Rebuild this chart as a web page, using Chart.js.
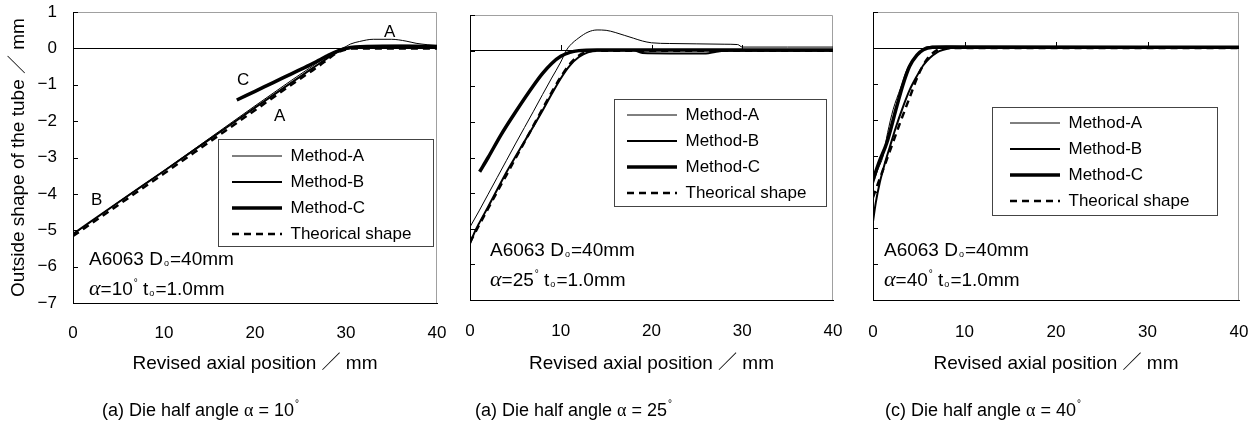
<!DOCTYPE html>
<html><head><meta charset="utf-8">
<script src="https://cdn.jsdelivr.net/npm/chart.js@4.4.1/dist/chart.umd.min.js"></script>
<style>
html,body{margin:0;padding:0;background:#fff;}
#wrap{position:relative;width:1256px;height:426px;overflow:hidden;font-family:"Liberation Sans",Arial,sans-serif;color:#000;}
canvas{position:absolute;top:0;}
.note{position:absolute;font-size:19px;line-height:25px;white-space:nowrap;}
.note sub{font-size:9px;vertical-align:baseline;position:relative;top:1px;margin:0 1px;}
.cap{position:absolute;font-size:18px;line-height:18px;white-space:nowrap;}
.al{font-family:"Liberation Serif","DejaVu Serif",serif;}
.note .al{font-style:italic;font-size:22px;}
sup.dg{font-size:10px;vertical-align:baseline;position:relative;top:-9px;margin-left:1px;}
</style></head><body>
<div id="wrap">
<canvas id="c1" width="450" height="426" style="left:0px"></canvas>
<canvas id="c2" width="400" height="426" style="left:450px"></canvas>
<canvas id="c3" width="406" height="426" style="left:850px"></canvas>
</div>
<script>
// ---------- data ----------
const xTicks = [0, 10, 20, 30, 40];
const yTicks = [1, 0, -1, -2, -3, -4, -5, -6, -7];
const seriesNames = ['Method-A', 'Method-B', 'Method-C', 'Theorical shape'];
const dieAngles = [10, 25, 40];
const captionLetters = ['(a)', '(a)', '(c)'];
const material = 'A6063';
const tubeDiameter = 40;
const wallThickness = 1.0;

// alpha = 10 deg
const a10_methodA = [[0,-5.12],[5,-4.22],[10,-3.36],[15,-2.47],[20,-1.58],[24,-0.88],[26,-0.54],[27,-0.37],[28,-0.2],[29,-0.06],[30,0.05],[30.5,0.12],[31.5,0.19],[33,0.25],[35,0.25],[36.6,0.2],[37.7,0.14],[39,0.1],[40,0.08]];
const a10_methodB = [[0,-5.1],[5,-4.23],[10,-3.37],[15,-2.5],[20,-1.63],[24,-0.94],[26,-0.6],[27,-0.43],[28,-0.26],[29,-0.11],[30,-0.02],[31,0.03],[33,0.06],[36,0.07],[40,0.06]];
const a10_methodC = [[18,-1.42],[20,-1.18],[22,-0.94],[24,-0.7],[26,-0.46],[27,-0.33],[28,-0.2],[29,-0.08],[30,0],[31,0.04],[34,0.06],[37,0.06],[40,0.05]];
const a10_theory  = [[0,-5.16],[5,-4.3],[10,-3.44],[15,-2.57],[20,-1.7],[24,-1.0],[26,-0.66],[27,-0.49],[28,-0.3],[29,-0.12],[30,-0.03],[31,0],[35,0],[40,0]];
const a10_curveTags = [['A',22.7,-1.88],['C',18.7,-0.87],['B',2.6,-4.17],['A',34.8,0.45]];

// alpha = 25 deg
const a25_methodA = [[0,-4.95],[1,-4.5],[2,-4.03],[3,-3.56],[4,-3.09],[5,-2.62],[6,-2.16],[7,-1.7],[8,-1.23],[9,-0.77],[10,-0.32],[10.6,0],[11,0.14],[12,0.36],[13,0.52],[14,0.58],[15,0.57],[16,0.51],[17,0.43],[18,0.35],[19,0.27],[20,0.22],[22,0.2],[25,0.19],[28,0.18],[29.5,0.17],[30,0.1],[35,0.1],[40,0.1]];
const a25_methodB = [[0,-5.42],[0.5,-5.1],[1,-4.85],[2,-4.38],[3,-3.9],[4,-3.42],[5,-2.98],[6,-2.55],[7,-2.12],[8,-1.68],[9,-1.22],[10,-0.78],[11,-0.42],[12,-0.18],[13,-0.05],[14,0],[18,0.01],[19,-0.07],[22,-0.08],[26,-0.08],[27,-0.04],[28,0],[40,0]];
const a25_methodC = [[1.06,-3.4],[2,-3.0],[3.4,-2.37],[5,-1.73],[7,-0.98],[8,-0.64],[9,-0.36],[10,-0.16],[11,-0.05],[12,0],[14,0.02],[40,0.02]];
const a25_theory  = [[0,-5.38],[1,-4.9],[2,-4.43],[3,-3.96],[4,-3.5],[5,-3.03],[6,-2.57],[7,-2.1],[8,-1.63],[9,-1.17],[10,-0.74],[11,-0.38],[12,-0.14],[13,-0.03],[14,0],[40,0]];

// alpha = 40 deg
const a40_methodA = [[0,-3.8],[0.5,-3.4],[1.1,-3.0],[1.6,-2.35],[2.2,-1.71],[3,-1.12],[3.7,-0.6],[4.4,-0.3],[5.1,-0.1],[5.8,0.03],[7,0.05],[10,0.04],[12,0],[40,0]];
const a40_methodB = [[0,-4.82],[0.3,-4.3],[0.73,-3.75],[1.3,-3.2],[1.86,-2.73],[2.5,-2.2],[3.3,-1.62],[4,-1.17],[4.77,-0.79],[5.5,-0.48],[6.2,-0.28],[7,-0.12],[7.7,-0.05],[8.5,0],[10,0.02],[11,0],[40,0]];
const a40_methodC = [[0,-3.66],[0.7,-3.15],[1.5,-2.64],[2.6,-1.62],[3.3,-1.0],[4,-0.51],[4.8,-0.2],[5.5,-0.05],[6.5,0.02],[8,0.03],[40,0.02]];
const a40_theory  = [[0,-4.15],[0.5,-3.8],[1,-3.45],[2,-2.75],[3,-2.05],[4,-1.38],[5,-0.72],[6,-0.28],[7,-0.06],[8,0],[40,0]];

// ---------- styling ----------
const FONT = '"Liberation Sans", Arial, "Noto Sans CJK JP", sans-serif';
const lineWidths = [1, 2, 3.5, 2.5];
const lineDashes = [[], [], [], [7, 5]];

const deco = {
  id: 'panelDeco',
  afterLayout(chart, args, o) {
    const lg = chart.legend;
    if (!lg || !o.legendAt) return;
    const pad = chart.options.plugins.legend.labels.padding;
    const fs = chart.options.plugins.legend.labels.font.size;
    lg.left = o.legendAt[0] - pad;
    lg.top = o.legendAt[1] - fs / 2 - pad;
    lg.right = lg.left + 400;
    lg.bottom = lg.top + 300;
  },
  beforeDatasetsDraw(chart, args, o) {
    const {ctx, chartArea: a, scales: {x, y}} = chart;
    ctx.save();
    ctx.lineWidth = 1;
    ctx.strokeStyle = '#a0a0a0';
    ctx.beginPath();
    ctx.moveTo(a.left, a.top + 0.5);
    ctx.lineTo(a.right - 0.5, a.top + 0.5);
    ctx.lineTo(a.right - 0.5, a.bottom);
    ctx.stroke();
    ctx.strokeStyle = '#000';
    ctx.beginPath();
    yTicks.forEach(v => {
      const py = Math.round(y.getPixelForValue(v)) + 0.5;
      ctx.moveTo(a.left, py); ctx.lineTo(a.left + 5, py);
    });
    if (o.zeroTicks) {
      const y0 = Math.round(y.getPixelForValue(0));
      xTicks.slice(1, -1).forEach(v => {
        const px = Math.round(x.getPixelForValue(v)) + 0.5;
        ctx.moveTo(px, y0); ctx.lineTo(px, y0 - 6);
      });
    }
    ctx.stroke();
    ctx.restore();
  },
  afterDraw(chart, args, o) {
    const {ctx, scales: {x, y}} = chart;
    ctx.save();
    if (o.box) {
      const [l, t, r, b] = o.box;
      ctx.strokeStyle = '#444'; ctx.lineWidth = 1;
      ctx.strokeRect(l + 0.5, t + 0.5, r - l, b - t);
    }
    if (o.tags) {
      ctx.fillStyle = '#000';
      ctx.font = '17px ' + FONT;
      ctx.textAlign = 'center'; ctx.textBaseline = 'middle';
      o.tags.forEach(([txt, vx, vy]) => ctx.fillText(txt, x.getPixelForValue(vx), y.getPixelForValue(vy)));
    }
    ctx.restore();
  }
};

function makeChart(id, cfg) {
  return new Chart(document.getElementById(id), {
    type: 'line',
    data: {
      datasets: cfg.series.map((pts, i) => ({
        label: seriesNames[i],
        data: pts.map(([px, py]) => ({x: px, y: py})),
        borderColor: '#000', backgroundColor: '#000',
        borderWidth: lineWidths[i], borderDash: lineDashes[i],
        pointRadius: 0, fill: false, cubicInterpolationMode: 'monotone'
      }))
    },
    options: {
      responsive: false, animation: false, events: [],
      layout: {padding: cfg.pad},
      scales: {
        x: {
          type: 'linear', min: 0, max: 40,
          afterBuildTicks: s => { s.ticks = xTicks.map(v => ({value: v})); },
          afterFit: s => { s.height = cfg.xh; s.paddingLeft = 0; s.paddingRight = 0; },
          ticks: {color: '#000', font: {size: 17, family: FONT}, padding: cfg.xpad, maxRotation: 0, autoSkip: false, callback: v => String(v)},
          grid: {display: true, drawOnChartArea: false, drawTicks: false},
          border: {color: '#000', width: 1},
          title: {display: true, text: 'Revised axial position ／ mm', color: '#000', font: {size: 19, family: FONT}, padding: {top: 0, bottom: 0}}
        },
        y: {
          type: 'linear', min: -7, max: 1,
          afterBuildTicks: s => { s.ticks = yTicks.map(v => ({value: v})); },
          afterFit: s => { s.width = cfg.yw; s.paddingTop = 0; s.paddingBottom = 0; },
          ticks: {display: cfg.yLabels, color: '#000', font: {size: 17, family: FONT}, padding: 16,
                  callback: v => v < 0 ? '\u2212' + Math.abs(v) : String(v)},
          grid: {color: c => (c.tick && c.tick.value === 0) ? '#000' : 'rgba(0,0,0,0)', drawTicks: false, lineWidth: 1},
          border: {color: '#000', width: 1},
          title: {display: cfg.yLabels, text: 'Outside shape of the tube ／ mm', color: '#000', font: {size: 19, family: FONT}, padding: {top: 7, bottom: 0}}
        }
      },
      plugins: {
        legend: {position: 'chartArea', align: 'start',
          labels: {usePointStyle: true, pointStyle: 'line', pointStyleWidth: 50, padding: 9, color: '#000', font: {size: 17, family: FONT},
            generateLabels: ch => Chart.defaults.plugins.legend.labels.generateLabels(ch).map((it, i) =>
              Object.assign(it, {lineWidth: lineWidths[i], lineDash: lineDashes[i], strokeStyle: '#000', fillStyle: '#000', pointStyle: 'line'}))}},
        tooltip: {enabled: false},
        panelDeco: {legendAt: cfg.legendAt, box: cfg.box, zeroTicks: cfg.zeroTicks, tags: cfg.tags}
      }
    },
    plugins: [deco]
  });
}

makeChart('c1', {
  series: [a10_methodA, a10_methodB, a10_methodC, a10_theory],
  pad: {left: 0, right: 13, top: 12, bottom: 51}, xh: 72, xpad: 20, yw: 73, yLabels: true,
  legendAt: [232, 156], box: [218, 139, 433, 246], zeroTicks: false, tags: a10_curveTags
});
makeChart('c2', {
  series: [a25_methodA, a25_methodB, a25_methodC, a25_theory],
  pad: {left: 20, right: 17, top: 15, bottom: 51}, xh: 75, xpad: 21, yw: 0, yLabels: false,
  legendAt: [177, 115], box: [164, 99, 376, 206], zeroTicks: true, tags: null
});
makeChart('c3', {
  series: [a40_methodA, a40_methodB, a40_methodC, a40_theory],
  pad: {left: 23, right: 17, top: 12, bottom: 51}, xh: 75, xpad: 22, yw: 0, yLabels: false,
  legendAt: [160, 123], box: [142, 107, 367, 215], zeroTicks: true, tags: null
});

// ---------- text blocks ----------
const wrap = document.getElementById('wrap');
const notePos = [[89, 246], [490, 237], [884, 237]];
const capPos = [[102, 401], [475, 401], [885, 401]];
dieAngles.forEach((ang, i) => {
  const n = document.createElement('div');
  n.className = 'note';
  n.style.left = notePos[i][0] + 'px'; n.style.top = notePos[i][1] + 'px';
  n.innerHTML = `${material} D<sub>o</sub>=${tubeDiameter}mm<br><span class="al">α</span>=${ang}<sup class="dg">°</sup> t<sub>o</sub>=${wallThickness.toFixed(1)}mm`;
  wrap.appendChild(n);
  const c = document.createElement('div');
  c.className = 'cap';
  c.style.left = capPos[i][0] + 'px'; c.style.top = capPos[i][1] + 'px';
  c.innerHTML = `${captionLetters[i]} Die half angle <span class="al">α</span> = ${ang}<sup class="dg">°</sup>`;
  wrap.appendChild(c);
});
</script>
</body></html>
